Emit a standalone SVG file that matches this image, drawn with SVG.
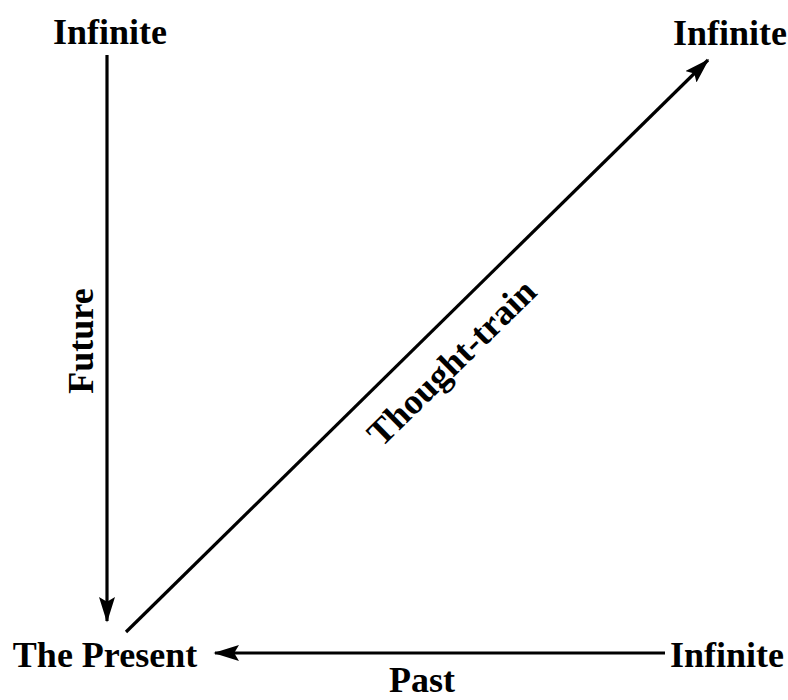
<svg xmlns="http://www.w3.org/2000/svg" width="788" height="700" viewBox="0 0 788 700">
<style>
text{font-family:"Liberation Serif","DejaVu Serif",serif;font-weight:bold;font-size:36px;fill:#000}
.c{stroke:#000;stroke-width:3.2;fill:none}
</style>
<defs>
<marker id="ah" markerWidth="8" markerHeight="5" refX="7.5" refY="2.5" orient="auto" markerUnits="strokeWidth">
<path d="M0,0 L8,2.5 L0,5 L1.5,2.5 Z" fill="#000"/>
</marker>
</defs>
<rect width="788" height="700" fill="#fff"/>
<g id="infinite-top-left"><text x="110" y="44" text-anchor="middle">Infinite</text></g>
<g id="infinite-top-right"><text x="730" y="45" text-anchor="middle">Infinite</text></g>
<g id="the-present"><text x="105" y="667" text-anchor="middle">The Present</text></g>
<g id="infinite-bottom-right"><text x="727" y="667" text-anchor="middle">Infinite</text></g>
<g id="connectors">
<line class="c" x1="107" y1="55" x2="107" y2="621" marker-end="url(#ah)"/>
<line class="c" x1="126" y1="632" x2="708" y2="60" marker-end="url(#ah)"/>
<line class="c" x1="665" y1="653" x2="215" y2="653" marker-end="url(#ah)"/>
<text x="93" y="341" text-anchor="middle" transform="rotate(-90 93 341)" font-size="34">Future</text>
<text x="460" y="371" text-anchor="middle" transform="rotate(-44.5 460 371)" font-size="33">Thought-train</text>
<text x="422" y="692" text-anchor="middle" font-size="32">Past</text>
</g>
</svg>
